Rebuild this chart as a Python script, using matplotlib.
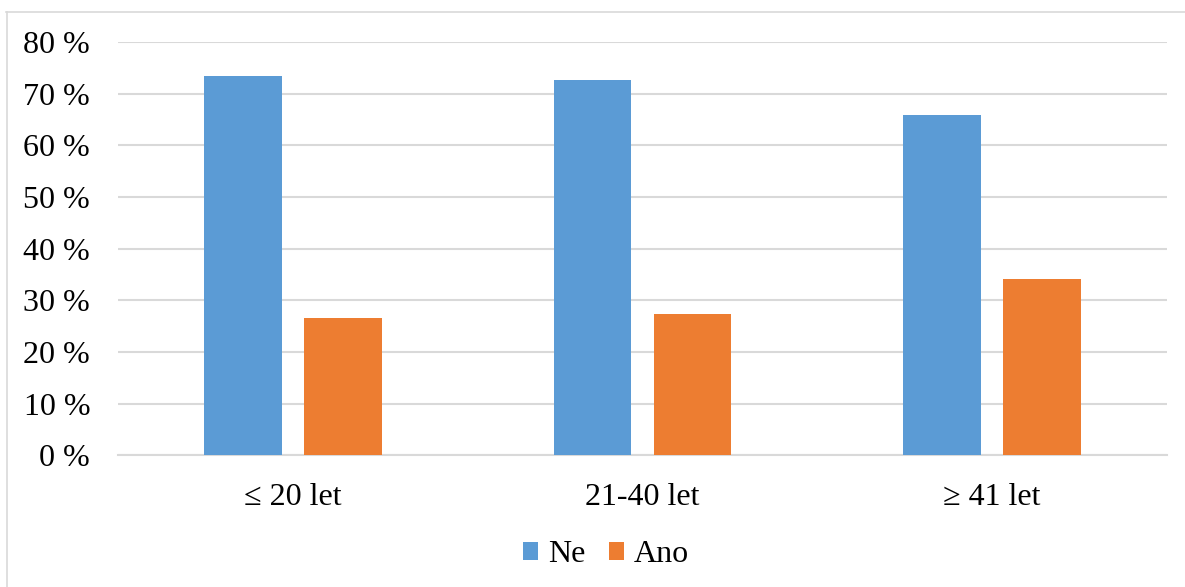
import matplotlib
matplotlib.use("Agg")
import matplotlib.pyplot as plt
import numpy as np
from matplotlib.lines import Line2D

# Age groups and answers (percent of respondents)
categories = ["\u2264 20 let", "21-40 let", "\u2265 41 let"]
series_names = ["Ne", "Ano"]
ne_values = [73.4, 72.7, 65.8]
ano_values = [26.6, 27.3, 34.2]
y_ticks = [0, 10, 20, 30, 40, 50, 60, 70, 80]

blue = "#5B9BD5"
orange = "#ED7D31"
grid_color = "#D9D9D9"

plt.rcParams["font.family"] = ["Liberation Serif", "DejaVu Serif"]

W, H = 1185, 587
fig = plt.figure(figsize=(W / 100, H / 100), dpi=100)

# outer chart frame (light gray)
fig.add_artist(Line2D([6 / W, 1.0], [1 - 11.5 / H, 1 - 11.5 / H],
                      color=grid_color, lw=1.2, transform=fig.transFigure))
fig.add_artist(Line2D([6.5 / W, 6.5 / W], [0, 1 - 11.5 / H],
                      color=grid_color, lw=1.2, transform=fig.transFigure))

left, right = 118 / W, 1167 / W
top, bottom = 1 - 42 / H, 1 - 455.3 / H
ax = fig.add_axes([left, bottom, right - left, top - bottom])

x = np.arange(len(categories))
bar_w = 0.223
offset = 0.143
ax.bar(x - offset, ne_values, width=bar_w, color=blue, label=series_names[0], zorder=3)
ax.bar(x + offset, ano_values, width=bar_w, color=orange, label=series_names[1], zorder=3)

ax.set_xlim(-0.5, len(categories) - 0.5)
ax.set_ylim(0, 80)
ax.set_yticks(y_ticks)
ax.set_yticklabels([f"{v} %" for v in y_ticks])
ax.set_xticks(x)
ax.set_xticklabels(categories)

ax.yaxis.grid(True, color=grid_color, lw=1.5, zorder=0)
ax.set_axisbelow(True)
for s in ["top", "right", "left"]:
    ax.spines[s].set_visible(False)
ax.spines["bottom"].set_color(grid_color)
ax.spines["bottom"].set_linewidth(1.5)
ax.tick_params(axis="both", length=0, labelsize=23, colors="black")
ax.tick_params(axis="y", pad=20)
ax.tick_params(axis="x", pad=20)

fig.legend(loc="center", bbox_to_anchor=(606 / W, 1 - 555 / H), ncol=2,
           frameon=False, fontsize=23, handlelength=0.48, handleheight=0.5,
           handletextpad=0.3, columnspacing=0.75)

fig.savefig("out.png", dpi=100, facecolor="white")
